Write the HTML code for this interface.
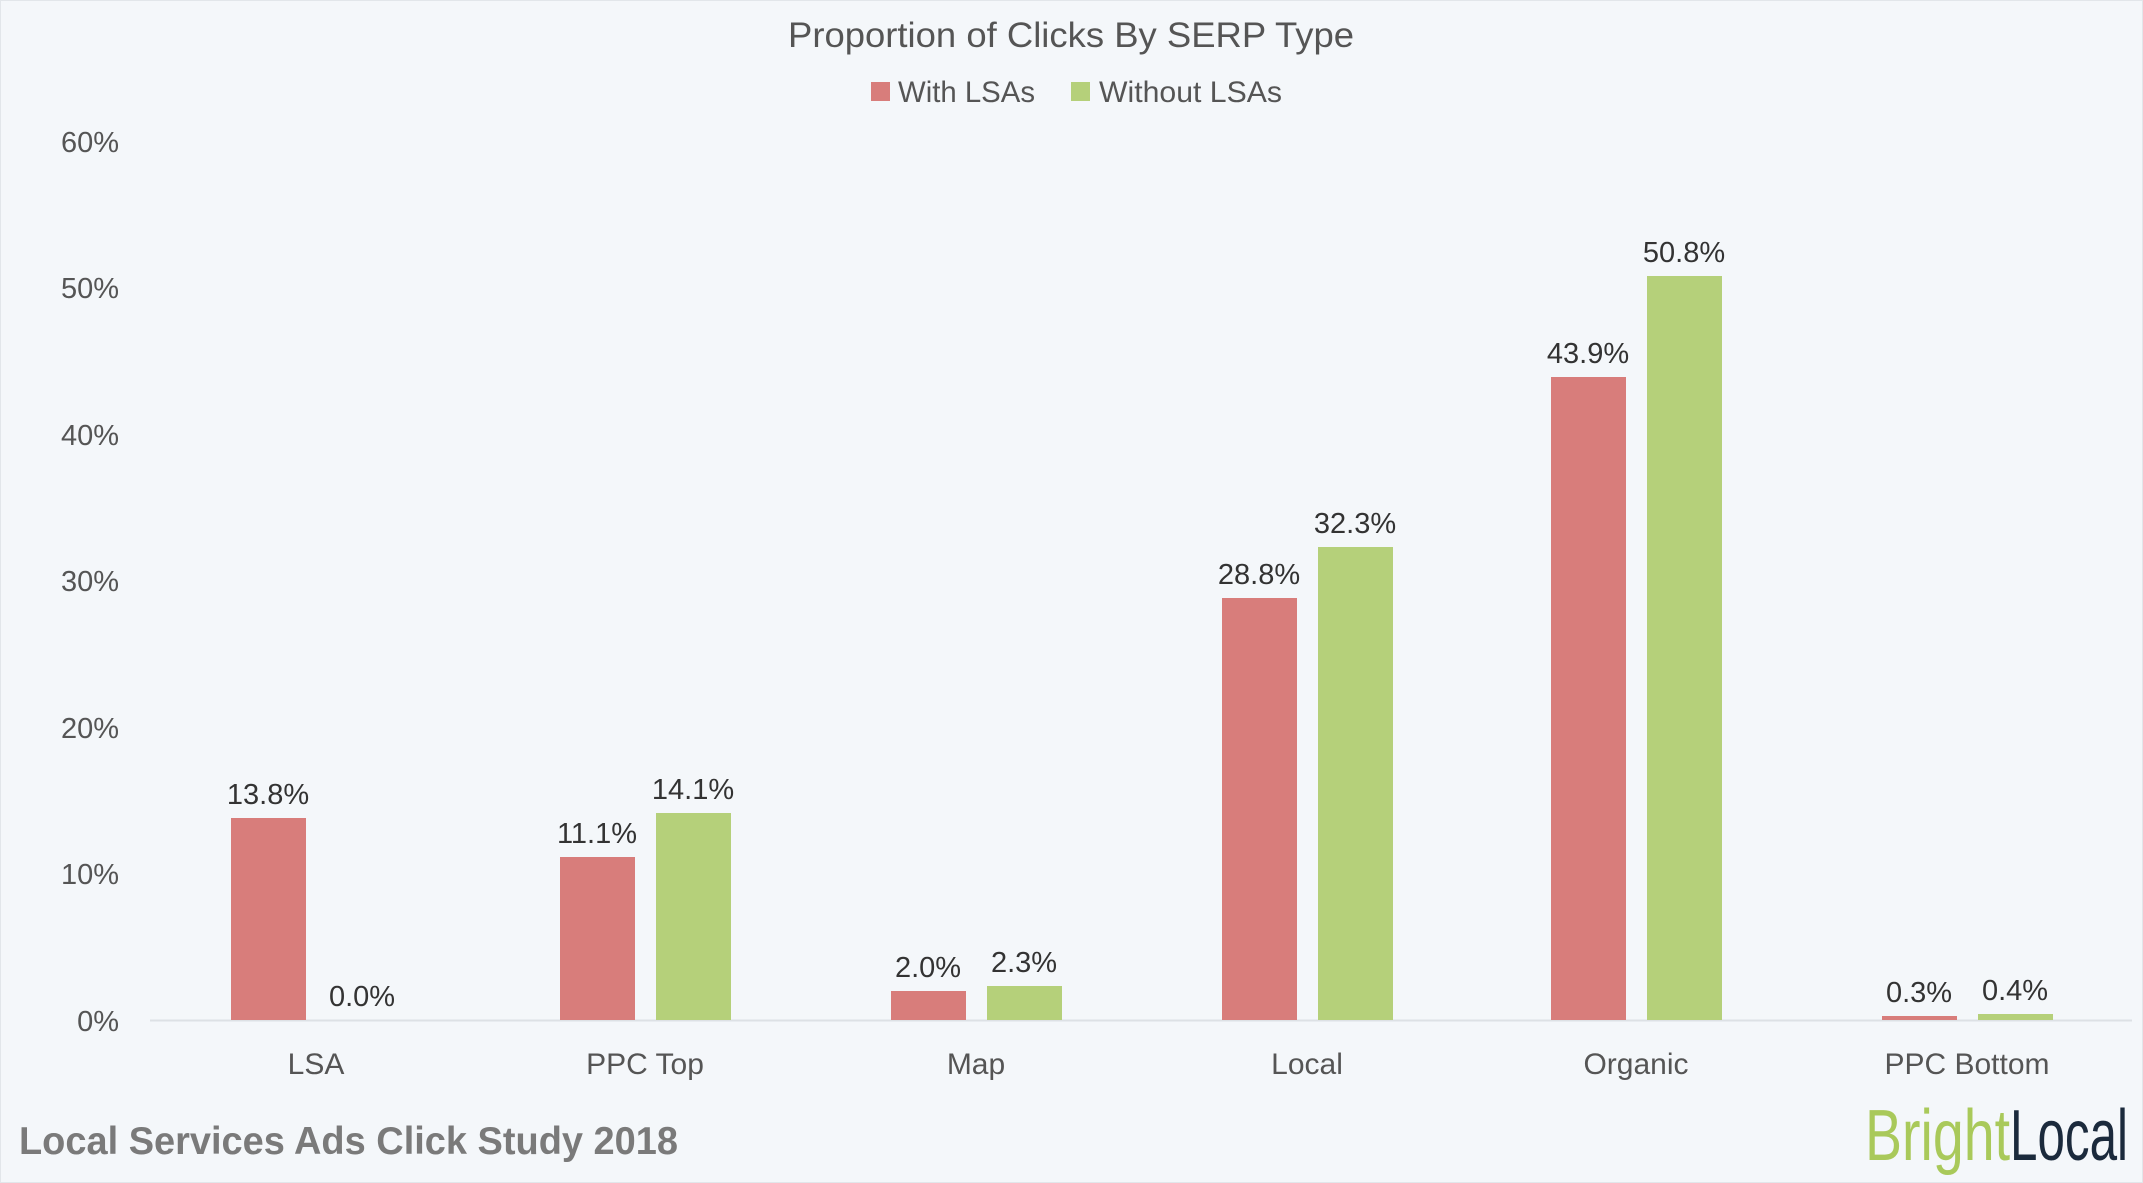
<!DOCTYPE html>
<html><head><meta charset="utf-8"><style>
html,body{margin:0;padding:0;background:#f4f7fa;}
svg{display:block;font-family:"Liberation Sans",sans-serif;}
</style></head><body>
<svg width="2143" height="1183" viewBox="0 0 2143 1183" xmlns="http://www.w3.org/2000/svg">
<rect width="2143" height="1183" fill="#f4f7fa"/>
<rect x="0.5" y="0.5" width="2142" height="1182" fill="none" stroke="#e2e6ea"/>
<text x="1071" y="47" text-anchor="middle" font-size="35" fill="#555" textLength="566" lengthAdjust="spacingAndGlyphs">Proportion of Clicks By SERP Type</text>
<rect x="871" y="82" width="19" height="19" fill="#d87d7b"/>
<text x="898" y="102" font-size="30" fill="#555" textLength="137" lengthAdjust="spacingAndGlyphs">With LSAs</text>
<rect x="1071" y="82" width="19" height="19" fill="#b5d07a"/>
<text x="1099" y="102" font-size="30" fill="#555" textLength="183" lengthAdjust="spacingAndGlyphs">Without LSAs</text>
<g font-size="29" fill="#555" text-anchor="end">
<text x="119" y="152">60%</text>
<text x="119" y="298">50%</text>
<text x="119" y="445">40%</text>
<text x="119" y="591">30%</text>
<text x="119" y="738">20%</text>
<text x="119" y="884">10%</text>
<text x="119" y="1031">0%</text>
</g>
<line x1="150" y1="1020.5" x2="2132" y2="1020.5" stroke="#dde1e5" stroke-width="2"/>
<g>
<rect x="231" y="818" width="75" height="202" fill="#d87d7b"/>
<rect x="560" y="857" width="75" height="163" fill="#d87d7b"/>
<rect x="656" y="813" width="75" height="207" fill="#b5d07a"/>
<rect x="891" y="991" width="75" height="29" fill="#d87d7b"/>
<rect x="987" y="986" width="75" height="34" fill="#b5d07a"/>
<rect x="1222" y="598" width="75" height="422" fill="#d87d7b"/>
<rect x="1318" y="547" width="75" height="473" fill="#b5d07a"/>
<rect x="1551" y="377" width="75" height="643" fill="#d87d7b"/>
<rect x="1647" y="276" width="75" height="744" fill="#b5d07a"/>
<rect x="1882" y="1016" width="75" height="4" fill="#d87d7b"/>
<rect x="1978" y="1014" width="75" height="6" fill="#b5d07a"/>
</g>
<g font-size="29" fill="#333" text-anchor="middle">
<text x="268" y="804">13.8%</text>
<text x="362" y="1006">0.0%</text>
<text x="597" y="843">11.1%</text>
<text x="693" y="799">14.1%</text>
<text x="928" y="977">2.0%</text>
<text x="1024" y="972">2.3%</text>
<text x="1259" y="584">28.8%</text>
<text x="1355" y="533">32.3%</text>
<text x="1588" y="363">43.9%</text>
<text x="1684" y="262">50.8%</text>
<text x="1919" y="1002">0.3%</text>
<text x="2015" y="1000">0.4%</text>
</g>
<g font-size="30" fill="#555" text-anchor="middle">
<text x="316" y="1074">LSA</text>
<text x="645" y="1074">PPC Top</text>
<text x="976" y="1074">Map</text>
<text x="1307" y="1074">Local</text>
<text x="1636" y="1074">Organic</text>
<text x="1967" y="1074">PPC Bottom</text>
</g>
<text x="19" y="1154" font-size="39" font-weight="bold" fill="#7a7a7a" textLength="659" lengthAdjust="spacingAndGlyphs">Local Services Ads Click Study 2018</text>
<text x="1865" y="1160" font-size="72" fill="#a9c95a" textLength="145" lengthAdjust="spacingAndGlyphs">Bright</text>
<text x="2010" y="1160" font-size="72" fill="#1b2a3c" textLength="118" lengthAdjust="spacingAndGlyphs">Local</text>
</svg>
</body></html>
